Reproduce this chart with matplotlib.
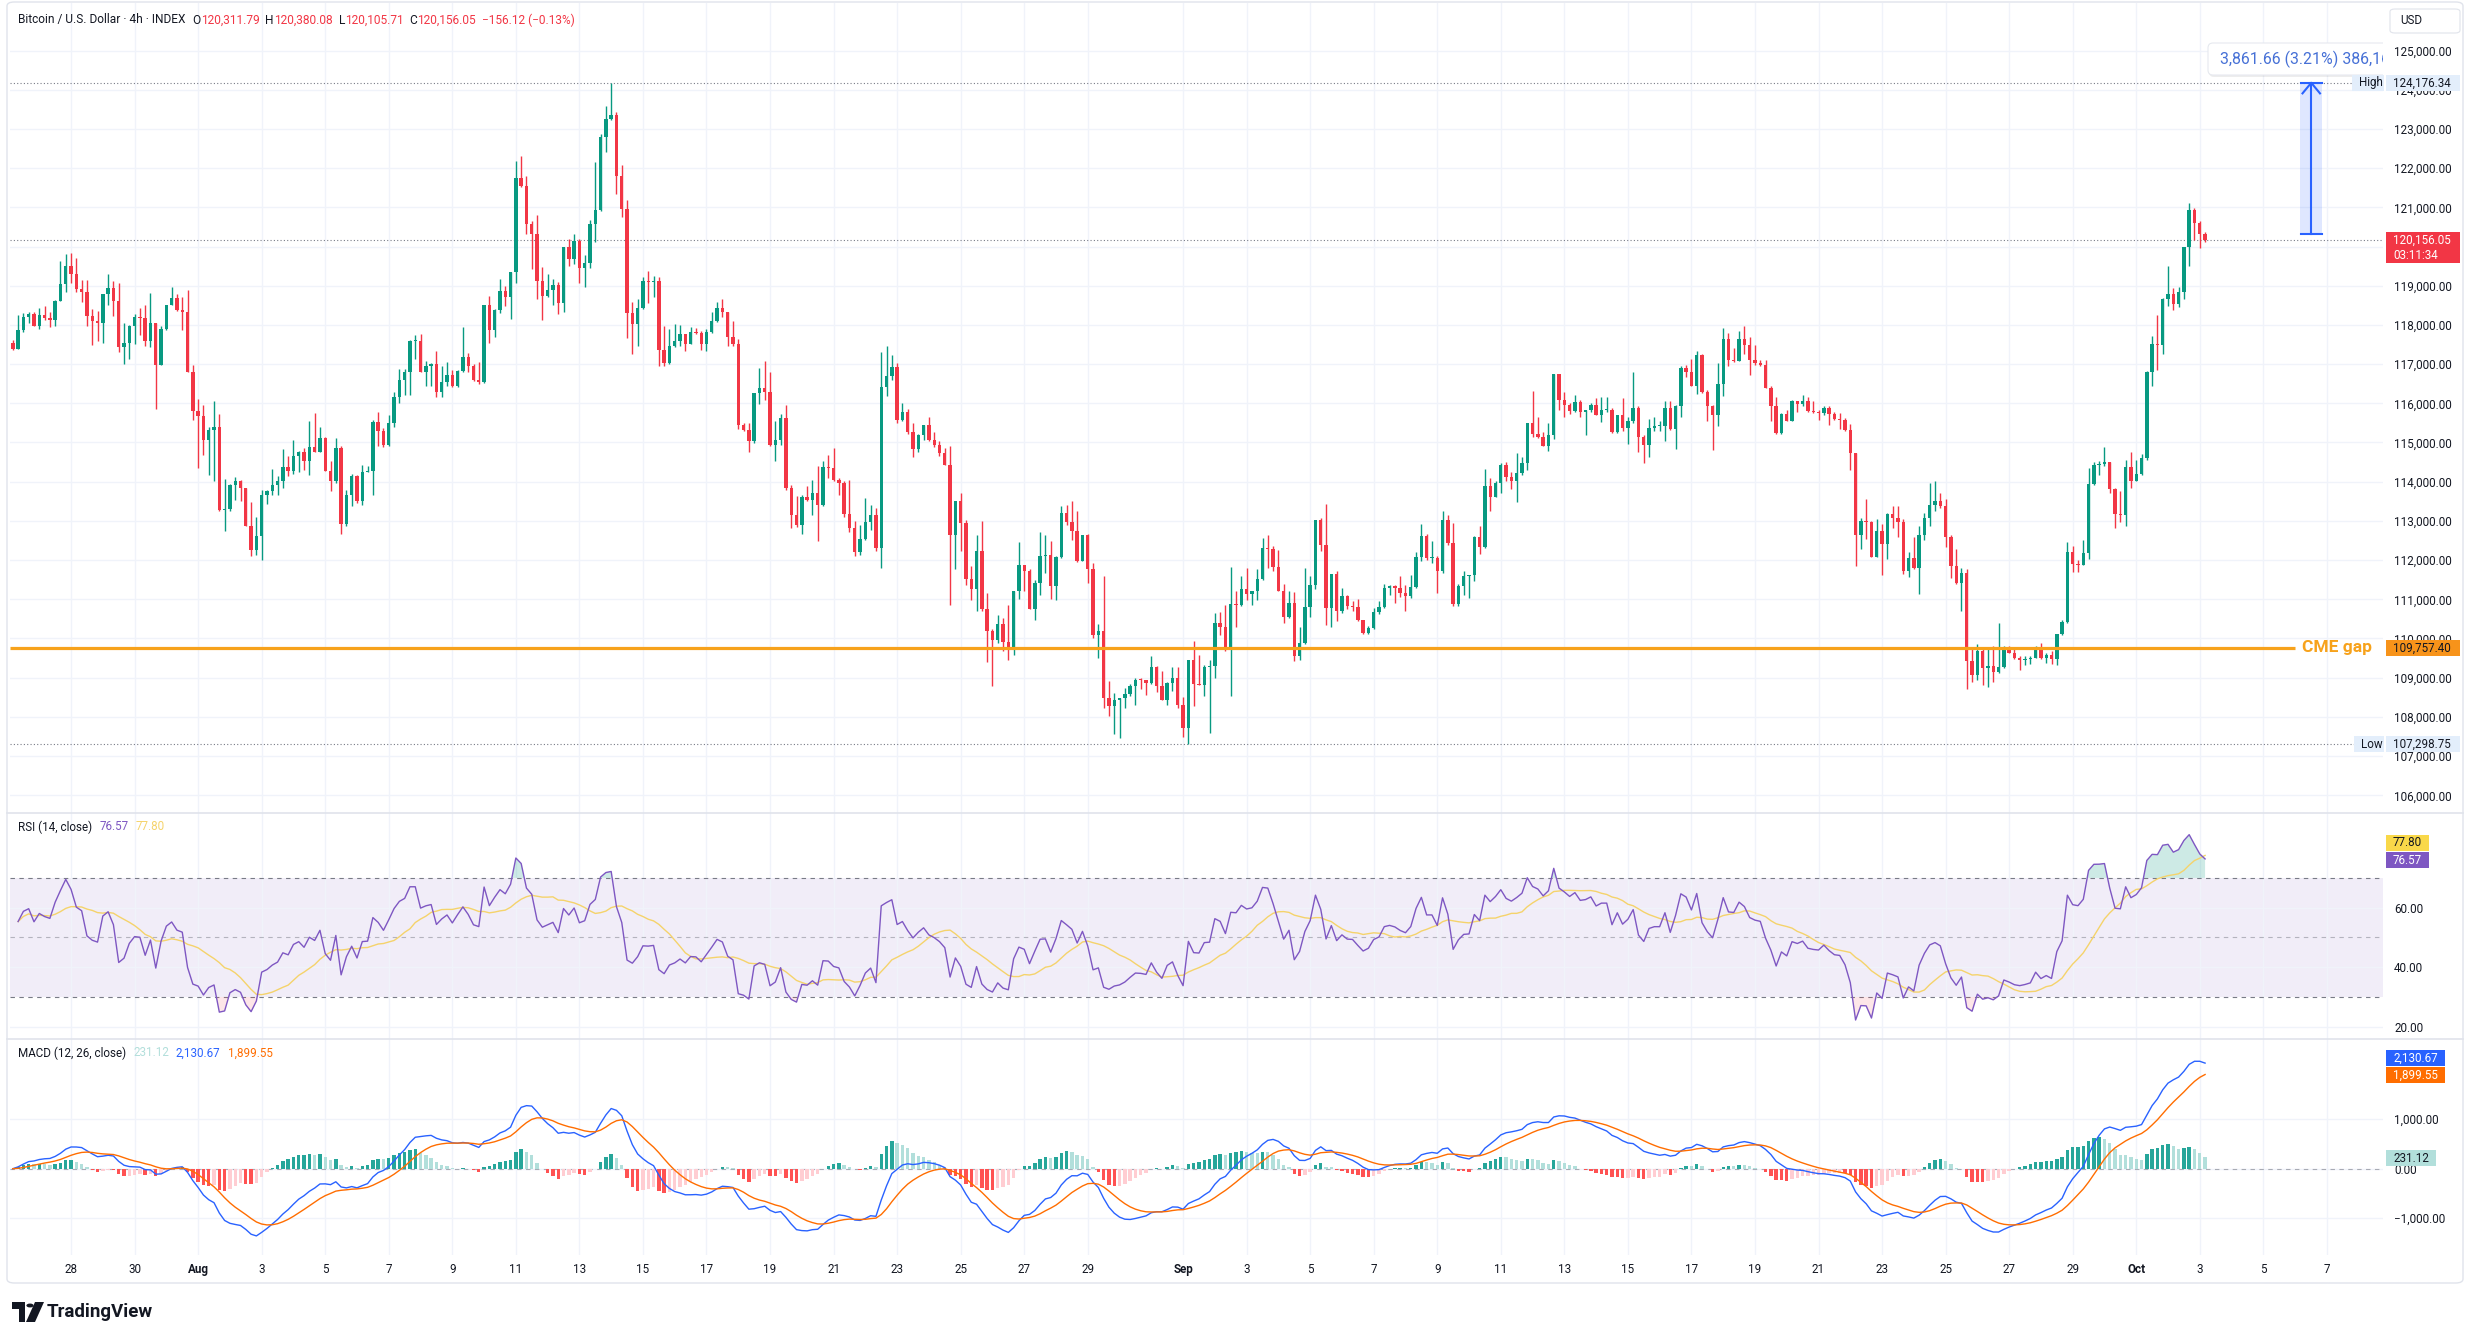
import matplotlib
matplotlib.use('Agg')
import matplotlib.pyplot as plt
from matplotlib.patches import Rectangle, FancyBboxPatch, Polygon, Circle
from matplotlib.transforms import IdentityTransform
from matplotlib.ticker import FuncFormatter
import numpy as np
import pandas as pd

plt.rcParams['font.family'] = ['Roboto', 'DejaVu Sans']

# 4h candles, first one opens 2025-07-26 04:00
start = pd.Timestamp('2025-07-26 04:00')
open0 = 117550
closes = [
    117390, 117860, 118200, 118290, 117980, 118240, 118170, 118130, 118620, 119040,
    119500, 119300, 118920, 118840, 118220, 118100, 118050, 118790, 118930, 118620,
    117430, 117550, 117980, 118190, 118170, 117600, 118040, 116980, 117890, 118500,
    118680, 118390, 118320, 116810, 115810, 115680, 115070, 115310, 115390, 113270,
    113310, 113920, 114030, 113840, 112880, 112270, 112610, 113650, 113750, 113920,
    114030, 114370, 114280, 114650, 114750, 114540, 114880, 114770, 115110, 114280,
    114010, 114860, 112930, 113670, 114140, 113500, 114260, 114280, 115520, 115300,
    114940, 115500, 116150, 116600, 116790, 117580, 117580, 116810, 116940, 117010,
    116280, 116540, 116730, 116450, 116820, 117180, 116940, 116600, 116540, 118520,
    117860, 118370, 118860, 118720, 119340, 121740, 121540, 120580, 120320, 119130,
    118750, 118890, 119030, 118550, 119980, 119680, 120130, 119450, 119570, 120580,
    120920, 122790, 123250, 123360, 121810, 120960, 118300, 118030, 118430, 119110,
    119090, 119130, 117360, 117020, 117470, 117580, 117770, 117520, 117810, 117790,
    117520, 117810, 118110, 118430, 118320, 117690, 117520, 115450, 115330, 115030,
    116260, 116390, 116300, 114930, 115070, 115620, 113840, 113160, 112900, 113600,
    113540, 113710, 113410, 114370, 114350, 114050, 113970, 113180, 112820, 112210,
    112550, 112970, 113140, 112310, 116410, 116690, 116920, 115580, 115790, 115270,
    114840, 115180, 115440, 115070, 114930, 114730, 114430, 112630, 113520, 112950,
    111530, 111250, 112240, 110740, 110200, 109950, 110370, 109910, 109760, 111220,
    111870, 111730, 110760, 111420, 112100, 112120, 111330, 112070, 113200, 112970,
    112730, 111970, 112630, 111780, 110080, 110180, 108470, 108270, 108420, 108470,
    108590, 108780, 108950, 108930, 108870, 109270, 108780, 108440, 108870, 108990,
    108310, 107720, 109440, 108840, 108820, 109270, 109290, 110400, 110290, 109780,
    110880, 110860, 111270, 111140, 111200, 111530, 112310, 112290, 111820, 111220,
    110540, 110910, 109550, 109890, 110800, 111370, 113030, 112390, 110780, 111650,
    110710, 111080, 110820, 110800, 110460, 110140, 110270, 110680, 110800, 111290,
    111350, 111290, 111160, 111080, 111310, 112070, 112610, 112050, 112050, 111710,
    113010, 112440, 110880, 111330, 111590, 111610, 112580, 112330, 113880, 113620,
    113960, 114430, 114110, 114010, 114220, 114470, 115490, 115210, 115130, 114920,
    115200, 116740, 116090, 115960, 115810, 116030, 115790, 115830, 115960, 115710,
    115830, 115830, 115260, 115690, 115370, 115540, 115890, 115150, 114940, 115370,
    115430, 115430, 115890, 115350, 115940, 116900, 116810, 116450, 117220, 116280,
    115940, 115710, 116490, 117640, 117110, 117090, 117640, 117490, 117110, 117020,
    116980, 116400, 115940, 115240, 115720, 115550, 116050, 115980, 116060, 115810,
    115770, 115750, 115880, 115720, 115600, 115580, 115320, 114730, 112630, 112990,
    112970, 112080, 112750, 112400, 113170, 113080, 112970, 111710, 112050, 111800,
    112640, 113080, 113410, 113500, 113370, 112590, 111850, 111410, 111670, 109420,
    109070, 109670, 109250, 109300, 109140, 109260, 109760, 109640, 109490, 109440,
    109470, 109510, 109770, 109510, 109580, 109470, 110110, 110410, 112200, 111910,
    111880, 112170, 113930, 114430, 114440, 114490, 113810, 113170, 113150, 114380,
    114020, 114200, 114600, 116810, 117500, 117490, 118660, 118780, 118540, 118830,
    120000, 120920, 120610, 120311.79, 120156.05,
]
highs = [
    117620, 118240, 118300, 118340, 118330, 118430, 118470, 118340, 118640, 119620,
    119810, 119830, 119700, 119140, 119140, 118410, 118360, 118790, 119300, 119110,
    119070, 118050, 118000, 118280, 118430, 118510, 118810, 118060, 117980, 118500,
    118960, 118790, 118710, 118900, 116980, 116110, 115960, 115390, 116050, 115730,
    114080, 113940, 114110, 114050, 113840, 113480, 113100, 113780, 113780, 114320,
    114140, 114840, 114650, 115060, 114790, 114860, 115560, 115750, 115390, 115130,
    114520, 115110, 114900, 113800, 114200, 114180, 114420, 114390, 115580, 115770,
    115370, 115700, 116300, 116880, 116880, 117620, 117730, 117770, 117070, 117020,
    117330, 116940, 117050, 116840, 116840, 117940, 117280, 117000, 117050, 118520,
    118750, 118410, 119170, 118980, 119340, 122190, 122320, 121810, 120660, 120810,
    119470, 119300, 119170, 119090, 119980, 120190, 120320, 120190, 119790, 120680,
    122160, 122870, 123590, 124176.34, 123420, 122090, 121190, 118580, 118660, 119210,
    119370, 119260, 119210, 117960, 117900, 118020, 118010, 117770, 117940, 117920,
    117850, 117890, 118320, 118580, 118650, 118330, 118090, 117640, 115500, 115500,
    116260, 116900, 117070, 116810, 115560, 115730, 115950, 113920, 113630, 113670,
    113880, 114050, 114390, 114520, 114690, 114860, 114090, 114030, 114050, 112990,
    112900, 113580, 113410, 113330, 117320, 117450, 117240, 117040, 116010, 115860,
    115500, 115220, 115450, 115640, 115280, 115030, 114860, 114900, 113520, 113710,
    113030, 111840, 112650, 113000, 111160, 110230, 110610, 110520, 110860, 111220,
    112460, 111870, 111780, 111480, 112720, 112650, 112480, 112100, 113370, 113410,
    113520, 113260, 112630, 112670, 111930, 110370, 111590, 108910, 108610, 108470,
    108740, 108840, 108990, 108990, 108950, 109550, 109290, 109160, 108890, 109270,
    109270, 108500, 109440, 109930, 109570, 109330, 109460, 110650, 110680, 110850,
    111820, 111200, 111590, 111800, 111220, 111760, 112560, 112630, 112350, 112270,
    111390, 111200, 111190, 110290, 111800, 111590, 113030, 113070, 113430, 111650,
    111730, 111290, 111120, 110950, 111020, 110480, 110310, 110780, 110950, 111390,
    111370, 111370, 111590, 111370, 111610, 112210, 112920, 112670, 112480, 112100,
    113260, 113140, 112950, 111390, 111710, 111630, 112610, 112860, 114330, 114090,
    114020, 114470, 114490, 114260, 114730, 114620, 115490, 116320, 115660, 115260,
    115490, 116740, 116740, 116300, 116000, 116200, 116090, 115840, 116000, 116130,
    116150, 116170, 115880, 115710, 116130, 115660, 116810, 115920, 115180, 115600,
    115640, 115550, 116050, 116050, 115960, 116940, 116980, 117130, 117340, 117250,
    116340, 115960, 117020, 117930, 117790, 117420, 117850, 117960, 117700, 117490,
    117110, 117110, 116450, 116170, 115750, 115830, 116090, 116060, 116220, 116170,
    116050, 115830, 115920, 115920, 115790, 115750, 115620, 115470, 114730, 113080,
    113550, 112990, 113050, 112930, 113210, 113390, 113370, 113040, 112200, 112580,
    112860, 113210, 113960, 114020, 113720, 113560, 112640, 112290, 111800, 111760,
    109760, 109860, 109790, 109790, 109820, 110390, 109820, 109820, 109790, 109550,
    109550, 109550, 109820, 109880, 109640, 109670, 110110, 110480, 112460, 112350,
    112000, 112510, 114360, 114490, 114530, 114890, 114490, 113830, 113760, 114550,
    114750, 114550, 114710, 116830, 117710, 118250, 118680, 119490, 118940, 118960,
    120000, 121100, 120980, 120660, 120380.08,
]
lows = [
    117370, 117390, 117830, 118060, 117960, 117900, 118130, 117940, 117980, 118620,
    118830, 119070, 118840, 118580, 117980, 117490, 117600, 117540, 118500, 118230,
    117320, 117010, 117140, 117520, 117750, 117450, 117430, 115860, 116970, 117880,
    118500, 118360, 117860, 116810, 115580, 114350, 114690, 114180, 114010, 113240,
    112750, 113240, 113540, 113500, 112880, 112100, 112140, 112010, 113430, 113670,
    113670, 113840, 114150, 114200, 114240, 114310, 114160, 114760, 114760, 114280,
    113770, 113970, 112670, 112860, 113370, 113460, 113410, 114240, 113670, 114910,
    114880, 114900, 115400, 116000, 116200, 116200, 117130, 116790, 116450, 116430,
    116160, 116160, 116430, 116420, 116420, 116790, 116790, 116580, 116480, 116510,
    117530, 117700, 118300, 118490, 118150, 119060, 121510, 120320, 119430, 118660,
    118130, 118710, 118520, 118280, 118320, 119490, 119550, 119060, 118960, 119450,
    120110, 120900, 122400, 123230, 121340, 120750, 117670, 117260, 117470, 118410,
    118550, 118720, 116960, 116940, 117000, 117430, 117470, 117340, 117500, 117770,
    117360, 117340, 117790, 118070, 118210, 117450, 117470, 115350, 115300, 114760,
    114990, 115980, 116090, 114900, 114540, 114940, 113800, 112820, 112840, 112670,
    113500, 113160, 112480, 113370, 114090, 114010, 113670, 113090, 112720, 112100,
    112140, 112520, 112780, 112240, 111800, 116180, 116600, 115500, 115560, 115220,
    114620, 114760, 115070, 115030, 114880, 114650, 114420, 110850, 111760, 112240,
    111370, 110990, 110690, 110710, 109390, 108800, 109890, 109670, 109460, 109570,
    111020, 111200, 110740, 110480, 111120, 111670, 111020, 110970, 112050, 112900,
    112500, 111950, 111970, 111420, 110010, 109500, 108230, 108020, 107570, 107460,
    108230, 108530, 108310, 108700, 108570, 108840, 108640, 108420, 108310, 108650,
    108230, 107480, 107298.75, 108270, 108810, 108530, 107590, 108990, 110100, 109690,
    108530, 110290, 110820, 110990, 110860, 110990, 111500, 111800, 111730, 111200,
    110400, 110510, 109420, 109440, 109860, 110540, 111250, 112220, 110350, 110290,
    110440, 110650, 110740, 110710, 110440, 110120, 110120, 110230, 110630, 110780,
    111120, 110910, 111050, 110690, 111030, 111290, 111970, 112010, 111930, 111160,
    111670, 112390, 110820, 110820, 111120, 111030, 111460, 112160, 112310, 113240,
    113600, 113710, 114010, 113820, 113480, 114160, 114300, 115130, 115110, 114900,
    114790, 115090, 115830, 115660, 115720, 115790, 115660, 115200, 115790, 115690,
    115520, 115790, 115240, 115240, 115300, 114960, 115490, 114750, 114470, 114620,
    115300, 115300, 115040, 115320, 114840, 115660, 116680, 116430, 116230, 116260,
    115550, 114810, 115430, 116190, 116940, 117050, 117070, 117250, 116710, 116980,
    116940, 116390, 115550, 115210, 115210, 115540, 115540, 115790, 115940, 115790,
    115750, 115580, 115710, 115450, 115580, 115350, 115300, 114300, 111840, 112290,
    112550, 112070, 112070, 111610, 112020, 112820, 112590, 111640, 111560, 111780,
    111140, 112510, 112880, 113260, 113320, 112330, 111540, 111380, 110700, 108720,
    108880, 108940, 108810, 108760, 108890, 109110, 109250, 109620, 109470, 109200,
    109320, 109350, 109490, 109470, 109380, 109350, 109320, 110080, 110390, 111700,
    111700, 111890, 112020, 113920, 114160, 114400, 113720, 112820, 112970, 112860,
    113830, 114010, 114160, 114550, 116430, 116840, 117250, 118480, 118390, 118460,
    118660, 119510, 120160, 119950, 120105.71,
]

tick_dates = ['2025-07-28', '2025-07-30', '2025-08-01', '2025-08-03', '2025-08-05',
              '2025-08-07', '2025-08-09', '2025-08-11', '2025-08-13', '2025-08-15',
              '2025-08-17', '2025-08-19', '2025-08-21', '2025-08-23', '2025-08-25',
              '2025-08-27', '2025-08-29', '2025-09-01', '2025-09-03', '2025-09-05',
              '2025-09-07', '2025-09-09', '2025-09-11', '2025-09-13', '2025-09-15',
              '2025-09-17', '2025-09-19', '2025-09-21', '2025-09-23', '2025-09-25',
              '2025-09-27', '2025-09-29', '2025-10-01', '2025-10-03', '2025-10-05',
              '2025-10-07']
tick_labels = ['28', '30', 'Aug', '3', '5', '7', '9', '11', '13', '15', '17', '19',
               '21', '23', '25', '27', '29', 'Sep', '3', '5', '7', '9', '11', '13',
               '15', '17', '19', '21', '23', '25', '27', '29', 'Oct', '3', '5', '7']

price_high = 124176.34
price_low = 107298.75
price_last = 120156.05
cme_gap = 109757.40
measure = 3861.66

UP, DN = '#089981', '#F23645'
TXT = '#131722'
GRID = '#F0F3FA'
W, H = 2475, 1343

c = np.array(closes, float)
o = np.r_[open0, c[:-1]]
o[-1] = 120311.79
hi = np.maximum(np.array(highs, float), np.maximum(o, c))
lo = np.minimum(np.array(lows, float), np.minimum(o, c))
x = np.arange(len(c))

# RSI 14 (Wilder), RSI-based MA 14
d = np.diff(c)
gains, losses = np.clip(d, 0, None), np.clip(-d, 0, None)
ag = al = np.abs(d[:14]).mean() / 2
rsi = [np.nan]
for g_, l_ in zip(gains, losses):
    ag = (ag * 13 + g_) / 14
    al = (al * 13 + l_) / 14
    rsi.append(100 - 100 / (1 + ag / al))
rsi = np.array(rsi)
rsi_ma = pd.Series(rsi).rolling(14, min_periods=1).mean().values

# MACD 12/26/9
s = pd.Series(c)
macd = (s.ewm(span=12, adjust=False).mean() - s.ewm(span=26, adjust=False).mean()).values
signal = pd.Series(macd).ewm(span=9, adjust=False).mean().values
hist = macd - signal
prev = np.r_[hist[0], hist[:-1]]
hist_col = np.where(hist >= 0, np.where(hist > prev, '#26A69A', '#B2DFDB'),
                    np.where(hist < prev, '#FF5252', '#FFCDD2'))

tick_pos = [(pd.Timestamp(t) - start) / pd.Timedelta('4h') for t in tick_dates]

fig = plt.figure(figsize=(W / 100, H / 100), dpi=100)
fig.patch.set_facecolor('white')


def frame(top, bottom):
    return [10 / W, 1 - bottom / H, (2383 - 10) / W, (bottom - top) / H]


ax = fig.add_axes(frame(3, 813))
ax_rsi = fig.add_axes(frame(813, 1039), sharex=ax)
ax_macd = fig.add_axes(frame(1039, 1255), sharex=ax)

fmt = FuncFormatter(lambda v, p: f'{v:,.2f}'.replace('-', '\u2212'))
for a in (ax, ax_rsi, ax_macd):
    for sp in a.spines.values():
        sp.set_visible(False)
    a.yaxis.tick_right()
    a.tick_params(length=0, labelsize=8.4, labelcolor=TXT, pad=8)
    a.yaxis.set_major_formatter(fmt)
    a.grid(True, color=GRID, lw=1, zorder=0)
    a.set_axisbelow(True)

ax.set_xlim(-0.53, 447.6)
ax.set_xticks(tick_pos)
ax.tick_params(labelbottom=False)
ax_rsi.tick_params(labelbottom=False)
ax_macd.set_xticklabels(tick_labels)
ax_macd.tick_params(axis='x', pad=6)
for t in ax_macd.get_xticklabels():
    if t.get_text() in ('Aug', 'Sep', 'Oct'):
        t.set_fontweight('bold')

# price pane; the 120,000 label sits fully under the last-price tag
ax.set_ylim(105548, 126212)
price_ticks = np.arange(106000, 126000, 1000)
ax.set_yticks(price_ticks)
ax.set_yticklabels(['' if v == 120000 else f'{v:,.2f}' for v in price_ticks])
cols = np.where(c >= o, UP, DN)
ax.vlines(x, lo, hi, colors=cols, lw=1, zorder=2)
ax.bar(x, np.maximum(np.abs(c - o), 25), bottom=np.minimum(o, c), width=0.64,
       color=cols, lw=0, zorder=3)

dots = (0, (1, 2))
ax.axhline(price_last, color='#787B86', lw=0.8, ls=dots, zorder=1.5)
ax.axhline(price_high, xmax=(2352 - 10) / 2373, color='#787B86', lw=0.8, ls=dots, zorder=1.5)
ax.axhline(price_low, xmax=(2354 - 10) / 2373, color='#787B86', lw=0.8, ls=dots, zorder=1.5)

ax.hlines(cme_gap, -0.53, 431, color='#F7A21B', lw=2.3, zorder=4)
ax.text(432.3, cme_gap, 'CME gap', color='#F7A21B', fontsize=12.5, fontweight='bold',
        va='center', ha='left', zorder=5)

# price-range measure
m_lo = price_high - measure
ax.add_patch(Rectangle((432.0, m_lo), 4.1, measure, fc='#2962FF', alpha=0.15, lw=0, zorder=4))
ax.plot([434.05, 434.05], [m_lo, price_high], color='#2962FF', lw=1.5, zorder=5)
ax.plot([432.1, 436.0], [price_high, price_high], color='#2962FF', lw=1.5, zorder=5)
ax.plot([432.1, 436.0], [m_lo, m_lo], color='#2962FF', lw=1.5, zorder=5)
ax.plot([432.4, 434.05, 435.7], [price_high - 270, price_high, price_high - 270],
        color='#2962FF', lw=1.5, zorder=5)
ax.add_patch(FancyBboxPatch((2209, H - 77), 220, 32, boxstyle='round,pad=0,rounding_size=5',
                            transform=IdentityTransform(), fc='#00000012', ec='none', zorder=6))
ax.add_patch(FancyBboxPatch((2208, H - 75), 220, 32, boxstyle='round,pad=0,rounding_size=5',
                            transform=IdentityTransform(), fc='white', ec='#E6E9EF', lw=0.8,
                            zorder=6))
ax.text(2220, H - 59, f'{measure:,.2f} ({measure / (price_high - measure) * 100:.2f}%) 386,166',
        transform=IdentityTransform(), color='#4670D6', fontsize=11.4, va='center',
        ha='left', zorder=7, clip_on=True)

# RSI pane
ax_rsi.set_ylim(15.9, 91.8)
ax_rsi.set_yticks([20, 40, 60])
ax_rsi.axhspan(30, 70, color='#7E57C2', alpha=0.1, lw=0, zorder=0.5)
dash = (0, (4, 4))
for lvl, al_ in ((70, 1), (50, 0.5), (30, 1)):
    ax_rsi.axhline(lvl, color='#787B86', lw=0.8, ls=dash, alpha=al_, zorder=1)
ax_rsi.fill_between(x, rsi, 70, where=rsi > 70, interpolate=True, color='#089981',
                    alpha=0.2, lw=0, zorder=1.5)
ax_rsi.fill_between(x, rsi, 30, where=rsi < 30, interpolate=True, color='#F23645',
                    alpha=0.12, lw=0, zorder=1.5)
ax_rsi.plot(x, rsi_ma, color='#F5D36B', lw=1, zorder=2)
ax_rsi.plot(x, rsi, color='#7E57C2', lw=1, zorder=3)

# MACD pane
ax_macd.set_ylim(-1743, 2620)
ax_macd.set_yticks([-1000, 0, 1000])
ax_macd.axhline(0, color='#787B86', lw=0.8, ls=dash, alpha=0.6, zorder=1)
ax_macd.bar(x, hist, width=0.64, color=hist_col, lw=0, zorder=2)
ax_macd.plot(x, macd, color='#2962FF', lw=1, zorder=3)
ax_macd.plot(x, signal, color='#FF6D00', lw=1, zorder=3)


def fig_rect(x0, y0, x1, y1, **kw):
    fig.add_artist(Rectangle((x0 / W, 1 - y1 / H), (x1 - x0) / W, (y1 - y0) / H,
                             transform=fig.transFigure, **kw))


def ypx(a, v):
    return H - a.transData.transform((0, v))[1]


def axis_box(yc, text, fc, tc, x0=2386, x1=2460, h=16, size=8.4):
    fig_rect(x0, yc - h / 2, x1, yc + h / 2, fc=fc, ec='none', zorder=5)
    fig.text((x0 + 7) / W, 1 - yc / H, text, color=tc, fontsize=size, va='center',
             ha='left', zorder=6)


# frame and pane separators
fig.add_artist(FancyBboxPatch((7 / W, 1 - 1283 / H), 2456 / W, 1281 / H,
                              boxstyle='round,pad=0,rounding_size=0.003',
                              transform=fig.transFigure, fc='none', ec='#E0E3EB', lw=1))
for yy in (813, 1039):
    fig.add_artist(plt.Line2D([7 / W, 2463 / W], [1 - yy / H] * 2, color='#E0E3EB', lw=1.2))

# price-scale labels
y_hi, y_lo, y_last, y_cme = (ypx(ax, v) for v in (price_high, price_low, price_last, cme_gap))
axis_box(y_hi, f'{price_high:,.2f}', '#E3EEFB', TXT)
axis_box(y_hi, 'High', '#E3EEFB', TXT, x0=2352, x1=2384)
axis_box(y_lo, f'{price_low:,.2f}', '#E3EEFB', TXT)
axis_box(y_lo, 'Low', '#E3EEFB', TXT, x0=2354, x1=2384)
fig_rect(2386, y_last - 8, 2460, y_last + 23, fc='#F23645', ec='none', zorder=5)
fig.text(2393 / W, 1 - y_last / H, f'{price_last:,.2f}', color='white', fontsize=8.4,
         va='center', zorder=6)
fig.text(2393 / W, 1 - (y_last + 15) / H, '03:11:34', color='white', fontsize=8.4,
         va='center', zorder=6)
axis_box(y_cme, f'{cme_gap:,.2f}', '#F7931A', TXT)
fig.add_artist(FancyBboxPatch((2390 / W, 1 - 33 / H), 70 / W, 24 / H,
                              boxstyle='round,pad=0,rounding_size=0.002',
                              transform=fig.transFigure, fc='white', ec='#E0E3EB', lw=0.8))
fig.text(2400 / W, 1 - 21 / H, 'USD', color=TXT, fontsize=8.4, va='center')

axis_box(843, '77.80', '#F9D849', TXT, x1=2429)
axis_box(860, '76.57', '#7E57C2', 'white', x1=2429)
axis_box(1058, '2,130.67', '#2962FF', 'white', x1=2445)
axis_box(1075, '1,899.55', '#FF6D00', 'white', x1=2445)
axis_box(1158, '231.12', '#B2DFDB', TXT, x1=2436)

# legends along the top-left of each pane
renderer = fig.canvas.get_renderer()


def chain(xp, yp, parts, size=8.6):
    for txt, col, gap in parts:
        t = fig.text(xp / W, 1 - yp / H, txt, color=col, fontsize=size, va='center', ha='left')
        xp += t.get_window_extent(renderer).width + gap


chain(18, 20, [('Bitcoin / U.S. Dollar \u00b7 4h \u00b7 INDEX', TXT, 7),
               ('O', TXT, 0), ('120,311.79', DN, 6), ('H', TXT, 0), ('120,380.08', DN, 6),
               ('L', TXT, 0), ('120,105.71', DN, 6), ('C', TXT, 0), ('120,156.05', DN, 6),
               ('\u2212156.12 (\u22120.13%)', DN, 0)])
chain(18, 827, [('RSI (14, close)', TXT, 7), ('76.57', '#7E57C2', 7), ('77.80', '#F5D36B', 0)],
      size=8.4)
chain(18, 1053, [('MACD (12, 26, close)', TXT, 7), ('231.12', '#B2DFDB', 7),
                 ('2,130.67', '#2962FF', 7), ('1,899.55', '#FF6D00', 0)], size=8.4)

# TradingView logo
def px_poly(pts, **kw):
    fig.add_artist(Polygon([(a / W, 1 - b / H) for a, b in pts], closed=True,
                           transform=fig.transFigure, **kw))


px_poly([(12, 1302), (25, 1302), (25, 1322), (19, 1322), (19, 1309), (12, 1309)], fc=TXT, ec='none')
fig.add_artist(Circle((30 / W, 1 - 1305.5 / H), 3.6 / W, transform=fig.transFigure, fc=TXT, ec='none'))
px_poly([(35, 1302), (44, 1302), (35, 1322), (26, 1322)], fc=TXT, ec='none')
fig.text(47 / W, 1 - 1312 / H, 'TradingView', color=TXT, fontsize=13.5, fontweight='bold',
         va='center', ha='left')

fig.savefig('out.png', dpi=100, facecolor='white')
